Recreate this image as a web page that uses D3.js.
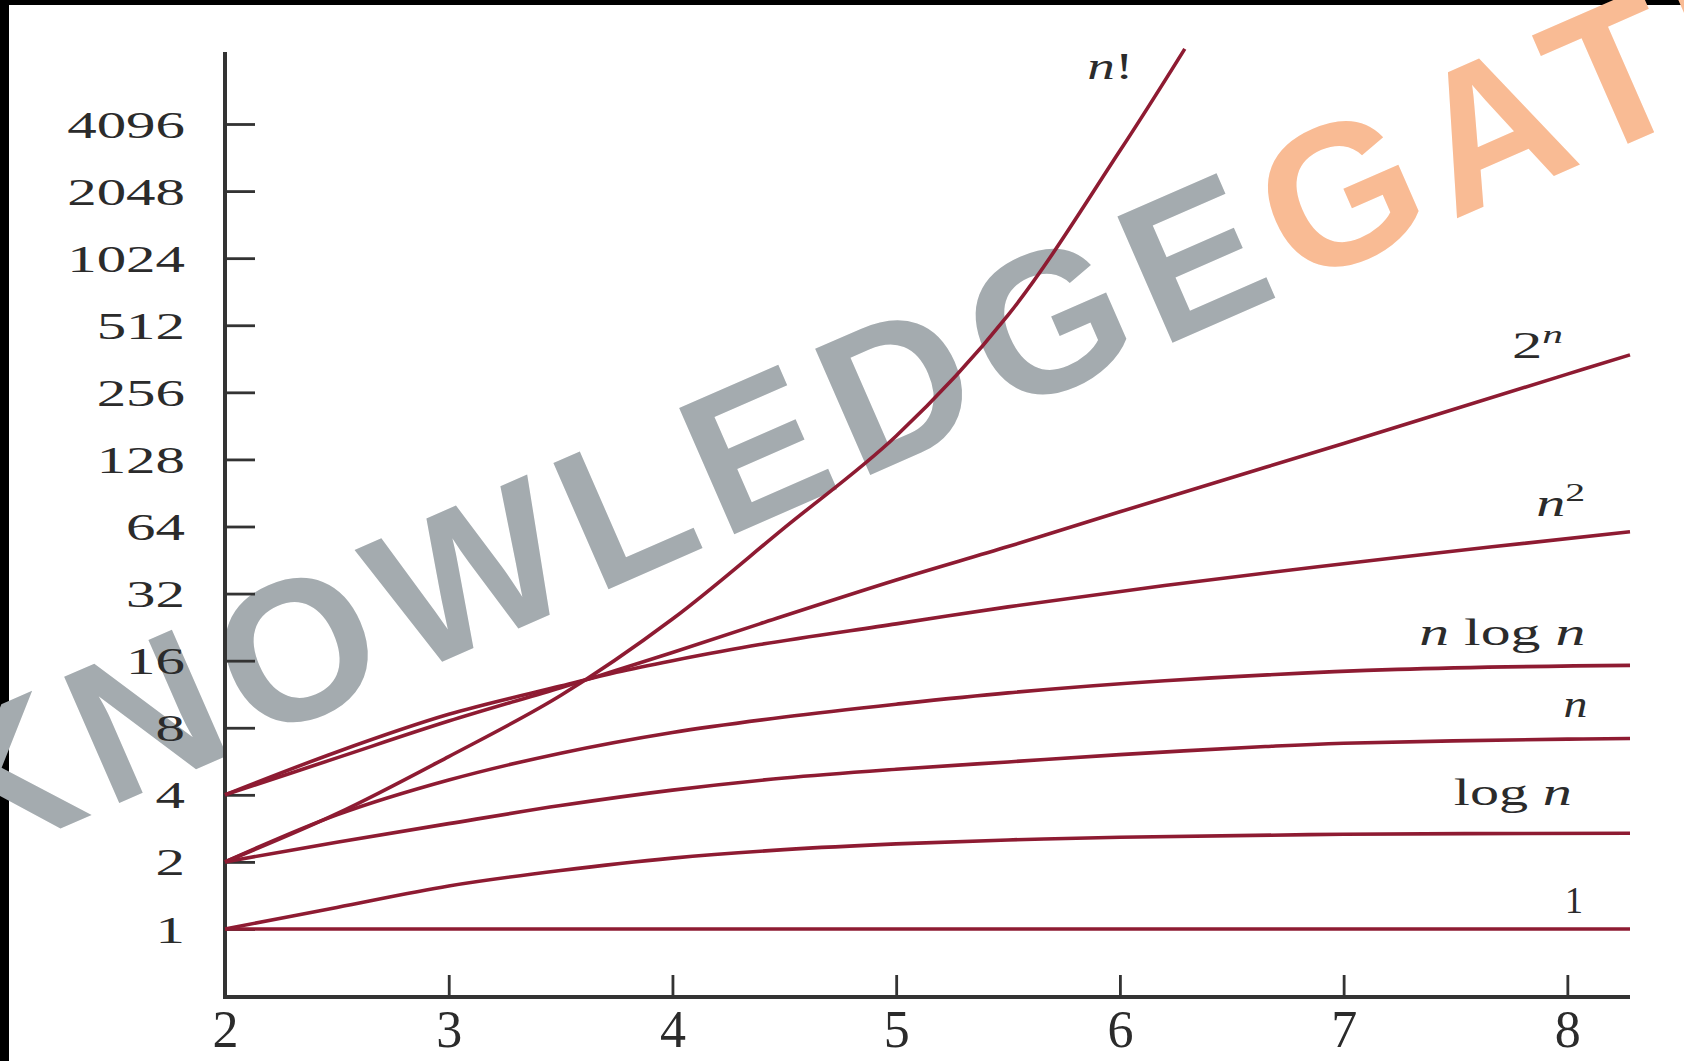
<!DOCTYPE html>
<html>
<head>
<meta charset="utf-8">
<script src="https://cdn.jsdelivr.net/npm/d3@7"></script>
<style>
  html, body { margin: 0; padding: 0; background: #fff; }
  svg { display: block; }
</style>
</head>
<body>
<svg id="chart" width="1684" height="1061"></svg>
<script>
// values, y axis is log base 2
var xTicks = [2, 3, 4, 5, 6, 7, 8];
var yTicks = [1, 2, 4, 8, 16, 32, 64, 128, 256, 512, 1024, 2048, 4096];

var constVals = [[2, 1], [5, 1], [8.28, 1]];
var logVals = [[2, 1], [2.5, 1.25], [3, 1.56], [3.5, 1.83], [4, 2.08], [4.5, 2.27], [5, 2.41],
               [5.5, 2.51], [6, 2.58], [7, 2.66], [8.28, 2.69]];
var linVals = [[2, 2], [2.5, 2.45], [3, 2.97], [3.5, 3.58], [4, 4.2], [4.5, 4.76], [5, 5.21],
               [5.5, 5.62], [6, 6.06], [6.65, 6.59], [7, 6.82], [8, 7.11], [8.28, 7.16]];
var nlognVals = [[2, 2], [2.5, 3.25], [3, 4.66], [3.5, 6.15], [4, 7.62], [4.5, 8.94], [5, 10.2],
                 [5.5, 11.47], [6.2, 13], [7.24, 14.62], [8.28, 15.24]];
var sqVals = [[2, 4], [2.5, 6.23], [3, 9.19], [3.5, 12.3], [3.75, 14.2], [4, 16], [4.39, 18.9],
              [5, 23.4], [5.5, 27.9], [6.2, 34.8], [7.24, 46.5], [8.28, 60.6]];
var expVals = [[2, 4], [2.5, 5.86], [3, 8.57], [3.5, 12.1], [3.75, 14.5], [4, 17.4], [4.39, 23.4],
               [5, 36.8], [5.5, 52], [6, 74.5], [7, 151], [8, 309], [8.28, 377]];
var factVals = [[2, 2], [2.5, 3.29], [3, 5.94], [3.5, 11.16], [4, 24.6], [4.5, 63.1], [5, 163],
                [5.5, 568], [6, 3104], [6.29, 8900]];

// curve labels: pieces (r = roman, i = italic, sup = superscript) and the point of their right end / baseline
var labelParts = [
  [["1", "r"]],
  [["log ", "r"], ["n", "i"]],
  [["n", "i"]],
  [["n", "i"], [" log ", "r"], ["n", "i"]],
  [["n", "i"], ["2", "sup"]],
  [["2", "r"], ["n", "isup"]],
  [["n", "i"], ["!", "r"]]
];
var labelAnchors = [[8.07, 1.18], [8.02, 3.6], [8.09, 8.94], [8.08, 18.8], [8.08, 71.5], [7.98, 365], [6.06, 6520]];

var series = [constVals, logVals, linVals, nlognVals, sqVals, expVals, factVals];

var W = 1684, H = 1061;
var axisTop = 52, axisBase = 997;
var lineColor = "#8e1b32", inkColor = "#2b2b2b";
var serif = "'Liberation Serif', 'Times New Roman', serif";

var svg = d3.select("#chart");

svg.append("rect").attr("width", W).attr("height", H).attr("fill", "#fff");
svg.append("rect").attr("width", W).attr("height", 5).attr("fill", "#000");
svg.append("rect").attr("width", 9).attr("height", H).attr("fill", "#000");

var x = d3.scaleLinear().domain([2, 8.28]).range([225, 1630]);
var y = d3.scaleLog().base(2).domain([1, 4096]).range([929, 124]);

// watermark
var wm = svg.append("text")
  .attr("transform", "translate(-39,872) rotate(-23.6)")
  .attr("font-family", "'Liberation Sans', Arial, sans-serif")
  .attr("font-weight", "bold")
  .attr("font-size", 200)
  .attr("letter-spacing", 15);
wm.append("tspan").attr("fill", "#a4abaf").text("KNOWLEDGE");
wm.append("tspan").attr("fill", "#f9bb94").text("GATE");

// axes
var yAxis = d3.axisLeft(y).tickValues(yTicks).tickSizeInner(-30).tickSizeOuter(0).tickFormat(d3.format("d"));
var gy = svg.append("g").attr("transform", "translate(" + x(2) + ",0)").call(yAxis);
gy.select(".domain").remove();
gy.selectAll(".tick line").attr("stroke", "#333").attr("stroke-width", 2.8);
gy.selectAll(".tick text")
  .attr("x", null).attr("dy", null)
  .attr("transform", "translate(-40,13) scale(1.55,1)")
  .attr("text-anchor", "end")
  .attr("font-family", serif).attr("font-size", 38).attr("fill", inkColor);

var xAxis = d3.axisBottom(x).tickValues(xTicks).tickSizeInner(-22).tickSizeOuter(0).tickFormat(d3.format("d"));
var gx = svg.append("g").attr("transform", "translate(0," + axisBase + ")").call(xAxis);
gx.select(".domain").remove();
gx.selectAll(".tick line").attr("stroke", "#333").attr("stroke-width", 2.8);
gx.selectAll(".tick text")
  .attr("y", 50).attr("dy", null)
  .attr("font-family", serif).attr("font-size", 52).attr("fill", inkColor);

svg.append("line")
  .attr("x1", x(2)).attr("x2", x(2)).attr("y1", axisTop).attr("y2", axisBase + 2)
  .attr("stroke", "#333").attr("stroke-width", 4);
svg.append("line")
  .attr("x1", x(2) - 2).attr("x2", x(8.28)).attr("y1", axisBase).attr("y2", axisBase)
  .attr("stroke", "#333").attr("stroke-width", 4);

// curves
var line = d3.line()
  .x(function(d) { return x(d[0]); })
  .y(function(d) { return y(d[1]); })
  .curve(d3.curveCatmullRom.alpha(0.5));

svg.append("g").selectAll("path")
  .data(series)
  .join("path")
  .attr("d", line)
  .attr("fill", "none")
  .attr("stroke", lineColor)
  .attr("stroke-width", 3.6);

// curve labels
var labelWidths = [18, 118, 24, 166, 49, 51, 46];
labelParts.forEach(function(parts, i) {
  var t = svg.append("text")
    .attr("font-family", serif).attr("font-size", 38).attr("fill", inkColor)
    .attr("text-anchor", "end");
  parts.forEach(function(p) {
    var s = t.append("tspan").text(p[0]);
    if (p[1].indexOf("i") >= 0) s.attr("font-style", "italic");
    if (p[1].indexOf("sup") >= 0) s.attr("font-size", 26).attr("dy", -15);
  });
  var w = t.node().getBBox().width;
  var a = labelAnchors[i];
  t.attr("transform", "translate(" + x(a[0]) + "," + y(a[1]) + ") scale(" + (labelWidths[i] / w) + ",1)");
});
</script>
</body>
</html>
